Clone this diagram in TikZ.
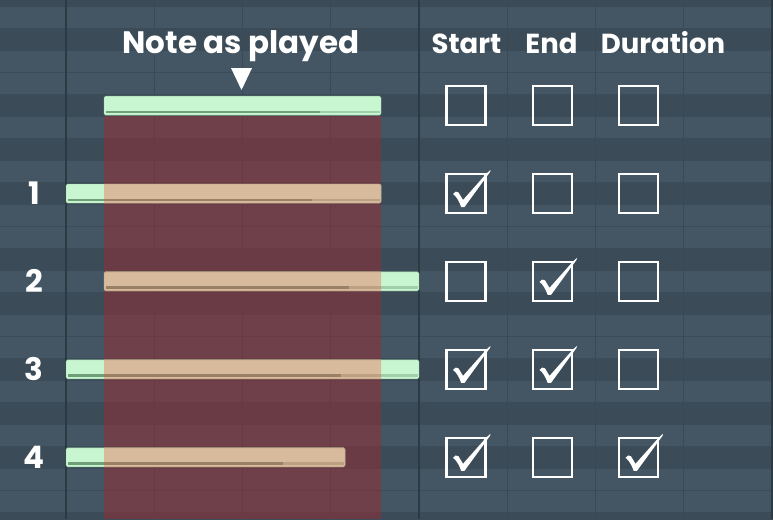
\documentclass[tikz,border=0pt]{standalone}
\usepackage{fontspec}
\setmainfont{Poppins}
\usetikzlibrary{positioning}

\definecolor{rowlight}{HTML}{445663}
\definecolor{rowdark}{HTML}{3B4C58}
\definecolor{beatline}{HTML}{394955}
\definecolor{barline}{HTML}{2C3A44}
\definecolor{zonered}{HTML}{9A2A33}
\definecolor{notegreen}{HTML}{C8F6D1}
\definecolor{noteedge}{HTML}{94C99E}
\definecolor{velgreen}{HTML}{6F9F77}
\definecolor{notetan}{HTML}{D8BA9C}
\definecolor{tanedge}{HTML}{B89A7E}
\definecolor{veltan}{HTML}{9A8064}

% #1 left, #2 right, #3 row top, #4 velocity end
\newcommand{\pianonote}[4]{%
  \fill[notegreen, draw=noteedge, rounded corners=1.5pt] (#1,#3+1.5) rectangle (#2,#3+20.5);
  \fill[velgreen!45!notegreen] (#1+1.5,#3+16) rectangle (#2-1.5,#3+18.5);
  \fill[velgreen] (#1+1.5,#3+16) rectangle (#4,#3+18.5);
  \begin{scope}
    \clip (104,116) rectangle (381,519);
    \fill[notetan, draw=tanedge, rounded corners=1.5pt] (#1,#3+1.5) rectangle (#2,#3+20.5);
    \fill[veltan!45!notetan] (#1+1.5,#3+16) rectangle (#2-1.5,#3+18.5);
    \fill[veltan] (#1+1.5,#3+16) rectangle (#4,#3+18.5);
  \end{scope}}

\begin{document}
\begin{tikzpicture}[x=1pt,y=-1pt]
  \tikzset{label/.style={text=white,font=\bfseries\fontsize{27.5}{30}\selectfont,inner sep=0pt,anchor=base},
    rownum/.style={text=white,font=\bfseries\fontsize{31}{32}\selectfont,inner sep=0pt},
    tickbox/.style={draw=white,line width=2.6pt,minimum size=39pt,inner sep=0pt},
    checkmark/.pic={\fill[white] (-13,0.5) .. controls (-11.5,-2) and (-9,-2.8) .. (-7.5,-1)
      -- (-3,6.5) -- (20.5,-20) .. controls (22,-21.8) .. (24.5,-23.5) -- (24,-21.5)
      -- (-1.5,13.5) -- (-4.8,13.5) .. controls (-7,7.5) and (-9.5,3) .. cycle;}}
  \useasboundingbox (0,0) rectangle (773,519);
  \fill[rowlight] (0,0) rectangle (773,519);
  \foreach \r in {0,2,5,7,9,12,14,17,19,21,24}
    \fill[rowdark] (0,{6.7+(\r-1)*21.98}) rectangle (773,{6.7+\r*21.98});
  \foreach \r in {1,...,23}
    \draw[rowdark,line width=0.8pt] (0,{6.7+(\r-1)*21.98}) -- (773,{6.7+(\r-1)*21.98});
  \foreach \x in {154.3,242.5,330.8,507.3,595.5,683.8}
    \draw[beatline,line width=1pt] (\x,0) -- (\x,519);
  \foreach \x in {66,419,772}
    \draw[barline,line width=1.6pt] (\x,0) -- (\x,519);
  \fill[zonered,opacity=0.5] (104,115.5) rectangle (381,519);

  \pianonote{104}{381}{94.6}{320}
  \pianonote{66}{381}{182.5}{312}
  \pianonote{104}{419}{270.4}{349}
  \pianonote{66}{419}{358.4}{341}
  \pianonote{66}{345}{446.3}{283}

  \node[label,font=\bfseries\fontsize{31}{32}\selectfont] (played) at (241,53) {Note as played};
  \node[label] (start) at (466.5,53) {Start};
  \node[label] (end) at (551.5,53) {End};
  \node[label] (dur) at (663,53) {Duration};
  \fill[white] (231,68) -- (252,68) -- (241.5,90) -- cycle;

  \node[rownum] (n1) at (34,193.5) {1};
  \node[rownum] (n2) at (34,281.4) {2};
  \node[rownum] (n3) at (34,369.4) {3};
  \node[rownum] (n4) at (34,457.3) {4};

  \node[tickbox] (s0) at (466,105.5) {};
  \node[tickbox] (e0) at (552.5,105.5) {};
  \node[tickbox] (d0) at (638.5,105.5) {};
  \node[tickbox] (s1) at (466,193.5) {};
  \node[tickbox] (e1) at (552.5,193.5) {};
  \node[tickbox] (d1) at (638.5,193.5) {};
  \node[tickbox] (s2) at (466,281.4) {};
  \node[tickbox] (e2) at (552.5,281.4) {};
  \node[tickbox] (d2) at (638.5,281.4) {};
  \node[tickbox] (s3) at (466,369.4) {};
  \node[tickbox] (e3) at (552.5,369.4) {};
  \node[tickbox] (d3) at (638.5,369.4) {};
  \node[tickbox] (s4) at (466,457.3) {};
  \node[tickbox] (e4) at (552.5,457.3) {};
  \node[tickbox] (d4) at (638.5,457.3) {};

  \pic at (s1) {checkmark};
  \pic at (e2) {checkmark};
  \pic at (s3) {checkmark};
  \pic at (e3) {checkmark};
  \pic at (s4) {checkmark};
  \pic at (d4) {checkmark};
\end{tikzpicture}
\end{document}
